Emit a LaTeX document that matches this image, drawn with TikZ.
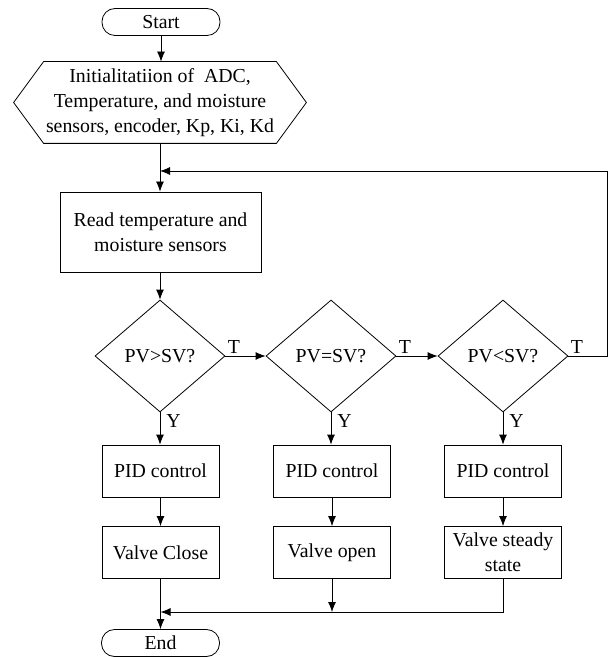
\documentclass[tikz,border=0pt]{standalone}
\usepackage{fontspec}
\setmainfont{Liberation Serif}
\usepackage{tikz}
\usetikzlibrary{positioning, calc, shapes.geometric, arrows.meta}

\tikzset{
    term/.style={draw, rounded corners=6.5pt, minimum width=59pt, minimum height=13.5pt, inner sep=0pt},
    proc/.style={draw, minimum width=58.5pt, minimum height=26pt, inner sep=0pt, align=center},
    test/.style={draw, diamond, aspect=1.16, minimum width=65pt, minimum height=56pt, inner sep=0pt},
    tag/.style={inner sep=1pt}
}

\begin{document}
\begin{tikzpicture}[>={Latex[length=5pt,width=4pt]}, x=0.5pt, y=-0.5pt,
    font=\fontsize{9.9}{12.5}\selectfont]
    \useasboundingbox (0,0) rectangle (609,657);

    \draw(161,22) node[term] (start) {Start};
    \draw(160,102.5) node[minimum width=116pt, minimum height=40.5pt, inner sep=0pt, align=center] (init)
    {Initialitatiion of \ ADC,\\ Temperature, and moisture\\ sensors, encoder, Kp, Ki, Kd};
    \draw ($(init.west)+(-30,0)$) -- (init.north west) -- (init.north east) -- ($(init.east)+(30,0)$)
    -- (init.south east) -- (init.south west) -- cycle;
    \draw(160.5,232) node[proc, minimum width=100.5pt, minimum height=40pt] (read)
    {Read temperature and\\ moisture sensors};

    % tests
    \draw(160,356) node[test] (gt) {PV>SV?};
    \draw(331,356) node[test] (eq) {PV=SV?};
    \draw(503,356) node[test] (lt) {PV<SV?};

    % actions
    \draw(160.5,471) node[proc] (pidA) {PID control};
    \draw(332,471) node[proc] (pidB) {PID control};
    \draw(503,471) node[proc] (pidC) {PID control};
    \draw(160.5,552.5) node[proc] (close) {Valve Close};
    \draw(332,552.5) node[proc] (open) {Valve open};
    \draw(503,552.5) node[proc, align=center] (steady) {Valve steady\\ state};

    \draw(160.5,643) node[term] (finish) {End};

    \coordinate (join) at (160,171);
    \coordinate (loopR) at (607,171);
    \coordinate (merge) at (160.5,612);

    \draw[->] (start) -- (init.north -| start);
    \draw (init.south) -- (join);
    \draw[->] (join) -- (read.north -| join);
    \draw[->] (read.south -| gt) -- (gt.north);

    \draw[->] (gt.east) -- (eq.west) node[pos=0, tag, anchor=south west] {T};
    \draw[->] (eq.east) -- (lt.west) node[pos=0, tag, anchor=south west] {T};
    \draw[->] (lt.east) node[tag, anchor=south west] {T} -| (loopR) -- (join);

    \draw[->] (gt.south) -- (pidA.north -| gt) node[pos=0, tag, anchor=north west, xshift=2pt] {Y};
    \draw[->] (eq.south) -- (pidB.north -| eq) node[pos=0, tag, anchor=north west, xshift=2pt] {Y};
    \draw[->] (lt.south) -- (pidC.north -| lt) node[pos=0, tag, anchor=north west, xshift=2pt] {Y};

    \draw[->] (pidA) -- (close);
    \draw[->] (pidB) -- (open);
    \draw[->] (pidC) -- (steady);

    \draw[->] (close) -- (finish);
    \draw[->] (open) -- (open.south |- merge);
    \draw[->] (steady.south) |- (merge);

    \end{tikzpicture}
\end{document}
